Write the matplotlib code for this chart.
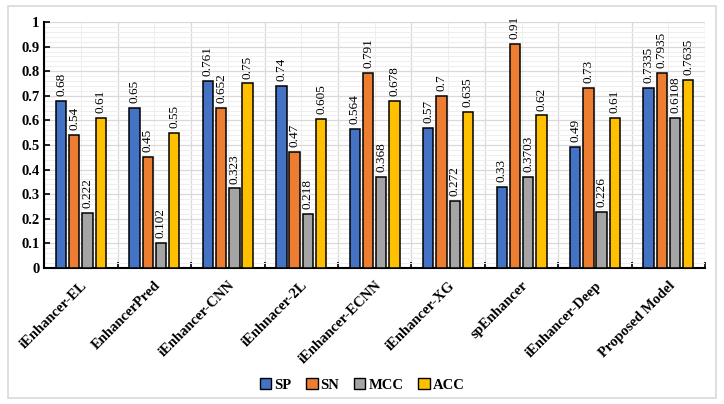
import matplotlib
matplotlib.use("Agg")
import matplotlib.pyplot as plt
import matplotlib.patches as mpatches
from matplotlib.ticker import MultipleLocator, FixedLocator, FuncFormatter
import numpy as np

plt.rcParams['font.family'] = ['Liberation Serif', 'DejaVu Serif']

# ── DATA ─────────────────────────────────────────────────────
models = ['iEnhancer-EL', 'EnhancerPred', 'iEnhancer-CNN', 'iEnhnacer-2L',
          'iEnhancer-ECNN', 'iEnhancer-XG', 'spEnhancer', 'iEnhancer-Deep',
          'Proposed Model']
sp  = [0.68, 0.65, 0.761, 0.74, 0.564, 0.57, 0.33, 0.49, 0.7335]
sn  = [0.54, 0.45, 0.652, 0.47, 0.791, 0.7, 0.91, 0.73, 0.7935]
mcc = [0.222, 0.102, 0.323, 0.218, 0.368, 0.272, 0.3703, 0.226, 0.6108]
acc = [0.61, 0.55, 0.75, 0.605, 0.678, 0.635, 0.62, 0.61, 0.7635]

series_names  = ['SP', 'SN', 'MCC', 'ACC']
series_values = [sp, sn, mcc, acc]
colors = ['#4472C4', '#ED7D31', '#A5A5A5', '#FFC000']

# ── FIGURE ───────────────────────────────────────────────────
fig = plt.figure(figsize=(7.24, 4.04), dpi=100)
ax = fig.add_axes([0.061, 0.337, 0.913, 0.6085])

# light outer frame
fig.patches.append(mpatches.Rectangle(
    (8 / 724, 6 / 404), 708 / 724, 392 / 404, transform=fig.transFigure,
    facecolor='none', edgecolor='#D9D9D9', linewidth=1.2, zorder=0))

x = np.arange(len(models))
width = 0.14
step = 0.18

for k, (name, vals, col) in enumerate(zip(series_names, series_values, colors)):
    pos = x + (k - 1.5) * step
    ax.bar(pos, vals, width, color=col, edgecolor='black', linewidth=1.1,
           label=name, zorder=3)
    for px, v in zip(pos, vals):
        ax.text(px, v + 0.02, f'{v:g}', rotation=90, ha='center', va='bottom',
                fontsize=9.5, zorder=4)

ax.set_xlim(-0.5, len(models) - 0.5)
ax.set_ylim(0, 1)

# y axis
ax.yaxis.set_major_locator(MultipleLocator(0.1))
ax.yaxis.set_minor_locator(MultipleLocator(0.02))
ax.yaxis.set_major_formatter(FuncFormatter(lambda v, p: f'{round(v, 1):g}'))
ax.tick_params(axis='y', which='major', direction='in', length=4, width=1.2,
               labelsize=10.5)
for lab in ax.get_yticklabels():
    lab.set_fontweight('bold')
ax.tick_params(axis='y', which='minor', length=0)

# x axis: ticks at group boundaries, labels at centres
ax.xaxis.set_major_locator(FixedLocator(np.arange(-0.5, len(models), 1.0)))
ax.xaxis.set_minor_locator(FixedLocator(x))
ax.set_xticklabels([])
ax.set_xticklabels(models, minor=True, rotation=45, ha='right',
                   rotation_mode='anchor', fontsize=10.5, fontweight='bold')
ax.tick_params(axis='x', which='major', direction='in', length=4, width=1.2)
ax.tick_params(axis='x', which='minor', length=0, pad=8)

# grid
ax.grid(which='major', color='#D9D9D9', linewidth=0.9, zorder=0)
ax.grid(which='minor', color='#EEEEEE', linewidth=0.7, zorder=0)
ax.set_axisbelow(True)

for s in ['top', 'right']:
    ax.spines[s].set_visible(False)
for s in ['left', 'bottom']:
    ax.spines[s].set_linewidth(1.5)

# legend
handles = [mpatches.Patch(facecolor=c, edgecolor='black', label=n)
           for n, c in zip(series_names, colors)]
fig.legend(handles=handles, loc='center', bbox_to_anchor=(0.5, 0.047),
           ncol=4, frameon=False, handlelength=0.8, handleheight=0.8,
           handletextpad=0.2, columnspacing=1.0,
           prop={'weight': 'bold', 'size': 10.5})

fig.savefig('out.png', dpi=100, facecolor='white')
